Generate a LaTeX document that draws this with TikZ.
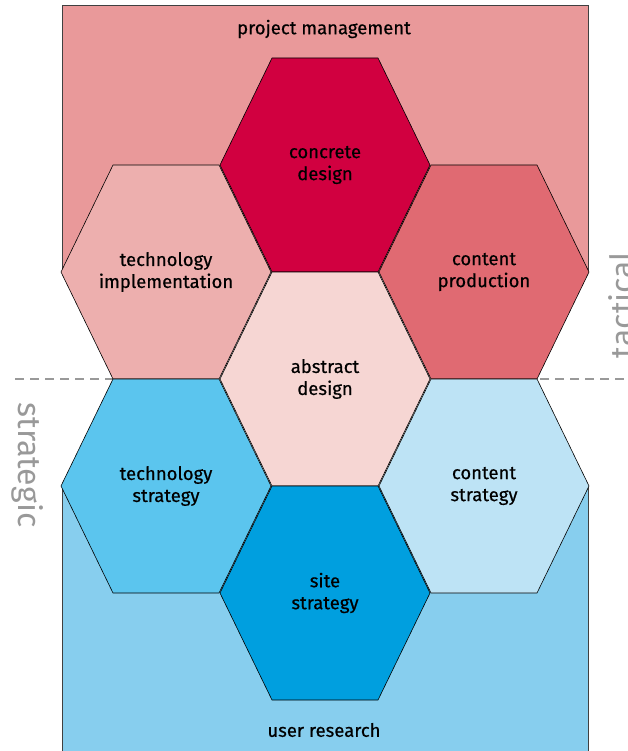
\documentclass[tikz,border=0pt]{standalone}
\usepackage{fontspec}
\setmainfont{Fira Sans}
\newfontfamily\labelfont[BoldFont={Fira Sans}, BoldFeatures={FakeBold=0.5}]{Fira Sans}
\definecolor{pmred}{HTML}{E9999A}
\definecolor{urblue}{HTML}{87CEEE}
\definecolor{concretered}{HTML}{D10040}
\definecolor{techimplred}{HTML}{EDAFAE}
\definecolor{prodred}{HTML}{E06A72}
\definecolor{abstractpink}{HTML}{F6D6D3}
\definecolor{techstratblue}{HTML}{5BC5EE}
\definecolor{contstratblue}{HTML}{BDE3F5}
\definecolor{siteblue}{HTML}{009FDF}
\definecolor{sidegray}{HTML}{999999}
\tikzset{zone/.style={draw=black!75, line width=0.8pt}}
\tikzset{hexcell/.style={draw=black, line width=0.6pt}}
\tikzset{hexlabel/.style={align=center, inner sep=0pt, font=\labelfont\bfseries\fontsize{18.5}{22}\selectfont}}
\tikzset{sidelabel/.style={text=sidegray, inner sep=0pt, font=\fontsize{32}{36}\selectfont}}

\begin{document}
\begin{tikzpicture}[x=1pt, y=-1pt]
\useasboundingbox (0,0) rectangle (627,751);
\clip (0,0) rectangle (627,751);
% divider between tactical and strategic
\coordinate (divl) at (15,379);
\coordinate (divr) at (627,379);
\draw[sidegray, line width=2pt, dash pattern=on 9pt off 6pt] (divl) -- (divr);
\draw[zone, fill=pmred] (62,5) rectangle (588,272);
\draw[zone, fill=urblue] (62,486) rectangle (588,760);
\node (pm) at (324,29) [hexlabel] {project management};
\node (ur) at (324,730) [hexlabel] {user research};
% hexagons
\foreach \name/\x/\y/\col/\txt in {
  concrete/325/165/concretered/{concrete\\design},
  techimpl/166/272/techimplred/{technology\\implementation},
  prod/484/272/prodred/{content\\production},
  abstract/325/379/abstractpink/{abstract\\design},
  techstrat/166/486/techstratblue/{technology\\strategy},
  contstrat/484/486/contstratblue/{content\\strategy},
  site/325/593/siteblue/{site\\strategy}}
{
  \draw[hexcell, fill=\col] ({\x-105},\y) -- ({\x-53},{\y-107}) -- ({\x+53},{\y-107})
    -- ({\x+105},\y) -- ({\x+53},{\y+107}) -- ({\x-53},{\y+107}) -- cycle;
  \node (\name) at (\x,\y) [hexlabel] {\txt};
}
\node (tactical) at (621,305) [sidelabel, rotate=90] {tactical};
\node (strategic) at (28,465) [sidelabel, rotate=-90] {strategic};
\end{tikzpicture}
\end{document}
